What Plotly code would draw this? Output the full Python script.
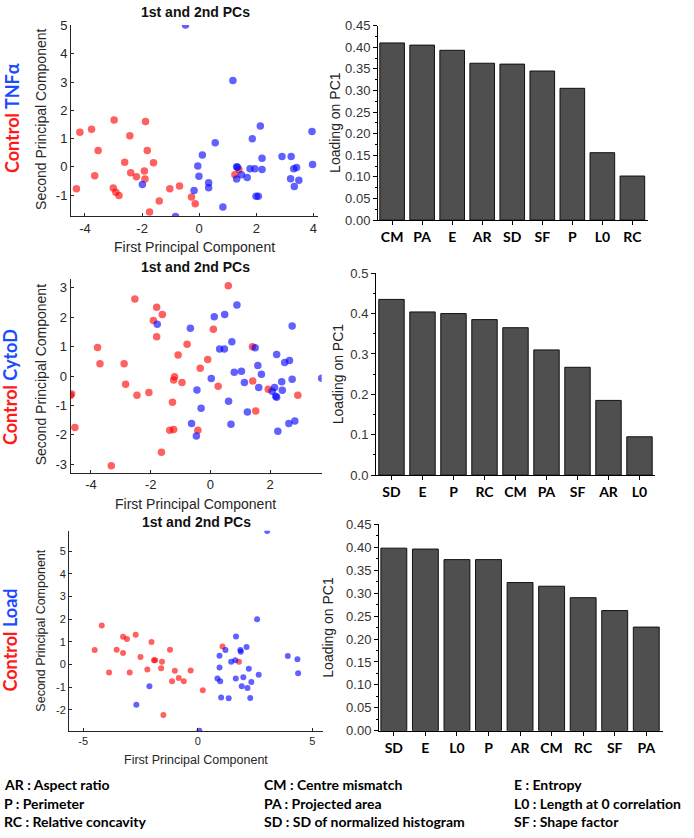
import plotly.graph_objects as go

W, H = 694, 838

# ---------------- data ----------------
# Panel 1: Control vs TNFa
tnf_ctrl_x = [-4.30, -4.18, -3.77, -3.54, -3.66, -2.98, -3.01, -2.92, -2.81, -2.61, -2.43, -2.40, -2.20,
              -1.88, -1.82, -1.92, -1.90, -1.60, -1.74, -1.40, -1.03, -0.69, -0.27, -0.14, 1.25, 1.39]
tnf_ctrl_y = [-0.78, 1.22, 1.33, 0.58, -0.32, 1.66, -0.75, -0.90, -1.02, 0.16, 1.10, -0.21, -0.35,
              1.60, 0.58, -0.15, -0.43, 0.14, -1.60, -1.21, -0.78, -0.68, -1.07, -1.31, -0.28, -0.10]
tnf_trt_x = [-0.48, 1.18, -1.99, -0.83, -0.18, -0.05, -0.01, 0.11, 0.33, 0.33, 0.56, 0.83, 1.31, 1.34,
             1.31, 1.48, 1.68, 1.78, 1.86, 1.95, 1.99, 2.07, 2.14, 2.20, 2.20, 2.90, 3.22, 3.20, 3.33,
             3.31, 3.41, 3.49, 3.95, 3.97]
tnf_trt_y = [5.02, 3.05, -0.63, -1.76, -0.84, 0.03, -0.34, 0.42, -0.57, -0.74, 0.85, -1.42, 0.00, -0.02,
             -0.43, -0.28, -0.38, -0.07, 0.99, -0.07, -1.04, -1.04, 1.44, 0.30, -0.10, 0.36, 0.36, -0.42,
             -0.70, -0.07, -0.03, -0.48, 1.25, 0.08]

# Panel 2: Control vs CytoD
cyto_ctrl_x = [-4.69, -4.65, -4.54, -3.78, -3.70, -3.32, -2.89, -2.84, -2.53, -2.46, -2.06, -1.91, -1.80,
               -1.80, -1.61, -1.64, -1.36, -1.23, -1.27, -1.23, -1.20, -1.08, -0.95, -0.78, -0.42, -0.34,
               -0.09, 0.10, 0.26, 0.60, 1.41, 1.42, 1.52, 1.94, 2.93]
cyto_ctrl_y = [-0.66, -0.61, -1.75, 0.97, 0.42, -3.05, 0.42, -0.28, 2.62, -0.65, -0.56, 1.89, 2.34,
               1.34, 2.09, -2.59, -1.84, -1.82, -0.89, -0.13, -0.02, 0.72, -0.22, 1.08, -1.84, 0.27,
               0.56, 1.59, -0.35, 3.07, 1.00, -0.17, -1.19, -0.45, -0.65]
cyto_trt_x = [-1.78, -0.67, -0.63, -0.47, -0.45, -0.31, 0.03, 0.13, 0.31, 0.47, 0.48, 0.61, 0.69, 0.72,
              0.80, 1.04, 1.14, 0.89, 1.24, 1.50, 1.59, 1.62, 1.71, 2.07, 2.15, 2.19, 2.22, 2.22, 2.26,
              2.39, 2.41, 2.49, 2.65, 2.63, 2.74, 2.74, 2.83, 3.73]
cyto_trt_y = [1.76, 1.63, -1.61, -2.04, -0.47, -1.09, -0.08, 2.02, 0.92, 0.92, 2.09, -0.86, -1.64, 1.17,
              0.13, 0.16, -0.22, 2.42, -1.22, 0.96, 0.36, -0.39, 0.06, -0.52, -0.39, -0.69, -0.72, 0.73,
              -1.88, -0.19, -0.48, 0.46, 0.53, -1.61, 1.70, -0.11, -1.53, -0.07]

# Panel 3: Control vs Load
load_ctrl_x = [-4.50, -4.19, -3.87, -3.54, -3.26, -3.26, -3.09, -2.97, -2.71, -2.50, -2.20, -2.02, -1.91,
               -1.86, -1.60, -1.56, -1.50, -1.21, -1.12, -1.00, -0.83, -0.61, -0.31, 0.22, 1.08, 1.80]
load_ctrl_y = [0.64, 1.72, -0.35, 0.65, 1.23, 0.51, 1.13, -0.35, 1.32, 0.33, -0.22, 1.00, 0.19,
               0.19, -0.16, 0.12, -2.23, 0.65, -0.74, -0.27, -0.59, -0.74, -0.26, -1.14, 0.80, 0.12]
load_trt_x = [3.03, -2.68, -2.11, 0.07, 0.86, 0.95, 0.95, 0.98, 1.02, 1.21, 1.35, 1.46, 1.64, 1.67, 1.66,
              1.86, 1.88, 1.92, 1.99, 2.13, 2.17, 2.23, 2.29, 2.34, 2.59, 2.66, 3.93, 4.35, 4.38]
load_trt_y = [5.90, -1.78, -0.96, -2.92, -0.62, 0.39, -0.13, -0.74, -1.46, 0.64, -1.49, 0.12, 0.19, 1.24,
              -0.62, 0.64, 0.56, -0.96, -0.56, 0.77, -1.04, -0.19, -1.48, -0.77, 2.00, -0.45, 0.38, 0.23,
              -0.39]

# Loadings on PC1
tnf_feat = ["CM", "PA", "E", "AR", "SD", "SF", "P", "L0", "RC"]
tnf_load = [0.410, 0.405, 0.393, 0.363, 0.361, 0.345, 0.305, 0.156, 0.102]
cyto_feat = ["SD", "E", "P", "RC", "CM", "PA", "SF", "AR", "L0"]
cyto_load = [0.435, 0.404, 0.400, 0.385, 0.365, 0.310, 0.267, 0.185, 0.095]
load_feat = ["SD", "E", "L0", "P", "AR", "CM", "RC", "SF", "PA"]
load_load = [0.398, 0.396, 0.373, 0.373, 0.323, 0.315, 0.290, 0.262, 0.226]

# tick labels
tnf_xt = [-4, -2, 0, 2, 4]
tnf_yt = [-1, 0, 1, 2, 3, 4, 5]
cyto_xt = [-4, -2, 0, 2]
cyto_yt = [-3, -2, -1, 0, 1, 2, 3]
load_xt = [-5, 0, 5]
load_yt = [-2, -1, 0, 1, 2, 3, 4, 5]

legend_items = [
    ["AR : Aspect ratio", "P : Perimeter", "RC : Relative concavity"],
    ["CM : Centre mismatch", "PA : Projected area", "SD : SD of normalized histogram"],
    ["E : Entropy", "L0 : Length at 0 correlation", "SF : Shape factor"],
]
groups = ["TNFα", "CytoD", "Load"]

# ---------------- helpers ----------------
def dx(a, b):
    return [a / W, b / W]

def dy(top, bottom):
    return [1 - bottom / H, 1 - top / H]

def px(x):
    return x / W

def py(y):
    return 1 - y / H

RED = "rgba(255,0,0,0.62)"
BLUE = "rgba(0,0,255,0.62)"
TXT = "#262626"
ARIAL = "Liberation Sans"
CAL = "Lato"

fig = go.Figure()

scatter_sets = [
    (tnf_ctrl_x, tnf_ctrl_y, tnf_trt_x, tnf_trt_y, 7.5),
    (cyto_ctrl_x, cyto_ctrl_y, cyto_trt_x, cyto_trt_y, 7.5),
    (load_ctrl_x, load_ctrl_y, load_trt_x, load_trt_y, 6),
]
bar_sets = [(tnf_feat, tnf_load), (cyto_feat, cyto_load), (load_feat, load_load)]

# scatter panels layout (pixel)
sc_geo = [
    dict(x=(71, 318), y=(18.3, 213.3), xr=[-4.49, 4.16], yr=[-1.76, 5.02], xt=tnf_xt, yt=tnf_yt, fs=13),
    dict(x=(70.7, 321.7), y=(276.7, 474.3), xr=[-4.68, 3.73], yr=[-3.29, 3.31], xt=cyto_xt, yt=cyto_yt, fs=13),
    dict(x=(69, 323.3), y=(533.3, 737.3), xr=[-5.62, 5.48], yr=[-2.94, 5.91], xt=load_xt, yt=load_yt, fs=11),
]
bar_geo = [
    dict(x=(378, 648), y=(19, 217), yr=[0, 0.45], dt=0.05, mdt=0.025, fmt=".2f", xr=[-0.47, 8.52]),
    dict(x=(376, 655), y=(271, 476.7), yr=[0, 0.5], dt=0.1, mdt=0.05, fmt=".1f", xr=[-0.5, 8.5]),
    dict(x=(379, 663), y=(526.7, 737), yr=[0, 0.45], dt=0.05, mdt=0.025, fmt=".2f", xr=[-0.47, 8.53]),
]

layout = {}
for i in range(3):
    sx = "x" if i == 0 else f"x{2*i+1}"
    sy = "y" if i == 0 else f"y{2*i+1}"
    bxn = f"x{2*i+2}"
    byn = f"y{2*i+2}"
    cx, cy, tx, ty, msz = scatter_sets[i]
    fig.add_trace(go.Scatter(x=cx, y=cy, mode="markers", xaxis=sx, yaxis=sy,
                             marker=dict(color=RED, size=msz, line=dict(width=0)), showlegend=False))
    fig.add_trace(go.Scatter(x=tx, y=ty, mode="markers", xaxis=sx, yaxis=sy,
                             marker=dict(color=BLUE, size=msz, line=dict(width=0)), showlegend=False))
    feats, vals = bar_sets[i]
    fig.add_trace(go.Bar(x=feats, y=vals, xaxis=bxn, yaxis=byn, showlegend=False,
                         marker=dict(color="#4f4f4f", line=dict(color="#111111", width=1))))

    g = sc_geo[i]
    ax_common = dict(showline=True, linecolor=TXT, linewidth=1, ticks="inside", ticklen=3,
                     tickcolor=TXT, showgrid=False, zeroline=False,
                     tickfont=dict(family=ARIAL, size=g["fs"], color=TXT))
    layout["xaxis" if i == 0 else f"xaxis{2*i+1}"] = dict(
        domain=dx(*g["x"]), range=g["xr"], anchor=sy,
        tickvals=g["xt"], ticktext=[str(v) for v in g["xt"]], **ax_common)
    layout["yaxis" if i == 0 else f"yaxis{2*i+1}"] = dict(
        domain=dy(*g["y"]), range=g["yr"], anchor=sx,
        tickvals=g["yt"], ticktext=[str(v) for v in g["yt"]], **ax_common)

    b = bar_geo[i]
    layout[f"xaxis{2*i+2}"] = dict(
        domain=dx(*b["x"]), range=b["xr"], anchor=byn, type="category",
        showline=True, linecolor="black", linewidth=1, ticks="outside", ticklen=4,
        tickcolor="black", showgrid=False, zeroline=False,
        tickfont=dict(family=CAL, size=14, color="black", weight="bold"))
    layout[f"yaxis{2*i+2}"] = dict(
        domain=dy(*b["y"]), range=b["yr"], anchor=bxn, dtick=b["dt"], tick0=0,
        tickformat=b["fmt"], showline=True, linecolor="black", linewidth=1,
        ticks="outside", ticklen=4, tickcolor="black", showgrid=False, zeroline=False,
        minor=dict(ticks="outside", ticklen=2, dtick=b["mdt"], tickcolor="black", showgrid=False),
        tickfont=dict(family=ARIAL, size=13, color="#333333"))

ann = []
def add_ann(xc, yc, text, font, angle=0, xanchor="center"):
    ann.append(dict(x=px(xc), y=py(yc), xref="paper", yref="paper", text=text, showarrow=False,
                    textangle=angle, xanchor=xanchor, yanchor="middle", font=font))

# titles
for (xc, yc) in [(195, 5), (195, 265), (196, 524)]:
    add_ann(xc, yc, "<b>1st and 2nd PCs</b>", dict(family=ARIAL, size=14, color="#111111"))
# x axis titles
for (xc, yc, fs) in [(194, 244, 14), (195, 506, 14), (196, 767, 12.5)]:
    add_ann(xc, yc, "First Principal Component", dict(family=ARIAL, size=fs, color=TXT))
# y axis titles
for (xc, yc, fs) in [(41, 115, 14), (41, 375, 14), (41, 635, 12.5)]:
    add_ann(xc, yc, "Second Principal Component", dict(family=ARIAL, size=fs, color=TXT), angle=-90)
# side labels
for (xc, yc, grp) in [(12, 113, groups[0]), (10, 387, groups[1]), (10, 645, groups[2])]:
    add_ann(xc, yc,
            f"<b><span style='color:#ff1a1a'>Control</span> <span style='color:#1a4cff'>{grp}</span></b>",
            dict(family=CAL, size=18), angle=-90)
# bar y titles
for (xc, yc) in [(335, 118), (338, 374), (328, 632)]:
    add_ann(xc, yc, "Loading on PC1", dict(family=ARIAL, size=14, color="#222222"), angle=-90)
# legend of abbreviations
col_x = [2, 262, 512]
row_y = [792, 811, 829]
for c, col in enumerate(legend_items):
    for r, t in enumerate(col):
        add_ann(col_x[c], row_y[r], f"<b>{t}</b>", dict(family=CAL, size=14, color="black"),
                xanchor="left")

fig.update_layout(width=W, height=H, autosize=False,
                  margin=dict(l=0, r=0, t=0, b=0, pad=0),
                  paper_bgcolor="white", plot_bgcolor="white",
                  annotations=ann, bargap=0.18, **layout)

fig.write_html("out.html", config={"displayModeBar": False},
               post_script="document.body.style.margin='0';document.body.style.overflow='hidden';")
